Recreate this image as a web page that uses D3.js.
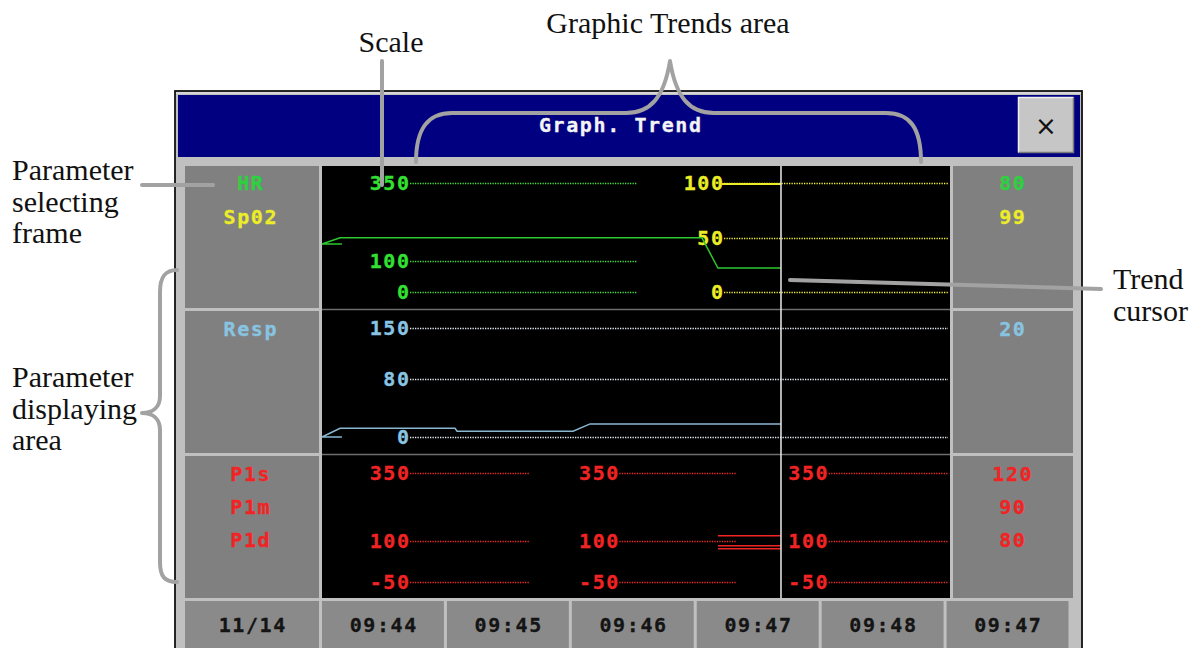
<!DOCTYPE html>
<html><head><meta charset="utf-8">
<script src="https://cdn.jsdelivr.net/npm/d3@7"></script>
<style>body{margin:0;background:#fff}svg{display:block}</style>
</head><body><svg id="c" width="1199" height="648"></svg>
<script>
// ---------------- data ----------------
const dateLabel = "11/14";
const timeTicks = ["09:44", "09:45", "09:46", "09:47", "09:48"];
const cursorTimeLabel = "09:47";
const cursorSeconds = 221.2;           // seconds after 09:44:00

const hrTicks = [350, 100, 0];
const spo2Ticks = [100, 50, 0];
const respTicks = [150, 80, 0];
const pTicks = [350, 100, -50];

const row1Names = ["HR", "Sp02"];
const row1Values = [80, 99];
const row2Names = ["Resp"];
const row2Values = [20];
const row3Names = ["P1s", "P1m", "P1d"];
const row3Values = [120, 90, 80];

const hrTime = [9.6, 0, 8.7, 183.1, 190.8, 221.2];
const hrValue = [154, 154, 174, 174, 77, 77];
const spo2Time = [192.8, 221.2];
const spo2Value = [99, 99];
const respTime = [9.6, 0, 8.7, 64.1, 65.1, 121, 129.2, 221.2];
const respValue = [0, 0, 12, 12, 8, 8, 18, 18];
const pTime = [190.8, 221.2];
const p1sValue = [120, 120];
const p1mValue = [83, 83];
const p1dValue = [72, 72];

// ---------------- styles ----------------
const C = {
  hr: "#33e033", hrLine: "#2ec82e", hrDot: "#44e044", spo2: "#ecec28", spo2Dot: "#f0f040",
  resp: "#88c4e2", respLine: "#8ab8d2", respDot: "#e8eef4", p: "#f02424", pDot: "#ee2a2a",
  navy: "#000080", panel: "#808080", light: "#c0c0c0", cell: "#8a8a8a", lead: "#a2a2a2"
};
const mono = "'DejaVu Sans Mono', 'Liberation Mono', monospace";
const serif = "'Liberation Serif', 'Times New Roman', serif";
const FS = 20, LS = 1.6;

const svg = d3.select("#c");

function screenText(xp, yp, str, color, anchor) {
  const t = svg.append("text").attr("x", xp).attr("y", yp).attr("text-anchor", anchor)
    .attr("dominant-baseline", "central").attr("font-family", mono).attr("font-weight", "bold")
    .attr("font-size", FS).style("letter-spacing", LS + "px").attr("fill", color)
    .attr("stroke", color).attr("stroke-width", 0.3).text(str);
  t.attr("dx", anchor === "end" ? LS : anchor === "middle" ? LS / 2 : 0);
  return t;
}

// ---------------- frame ----------------
svg.append("rect").attr("x", 175).attr("y", 91).attr("width", 907).attr("height", 580)
  .attr("fill", C.light).attr("stroke", "#111").attr("stroke-width", 1.8);
svg.append("line").attr("x1", 176).attr("x2", 1081).attr("y1", 93).attr("y2", 93)
  .attr("stroke", "#ececec").attr("stroke-width", 1);
svg.append("rect").attr("x", 178).attr("y", 95).attr("width", 902).attr("height", 62).attr("fill", C.navy);

// close button
svg.append("rect").attr("x", 1018).attr("y", 97).attr("width", 56).attr("height", 56).attr("fill", "#c6c6c6");
svg.append("path").attr("d", "M1018.5,152.5 V97.5 H1073.5").attr("fill", "none").attr("stroke", "#f0f0f0").attr("stroke-width", 1.5);
svg.append("path").attr("d", "M1018.5,152.5 H1073.5 V97.5").attr("fill", "none").attr("stroke", "#7a7a7a").attr("stroke-width", 1.5);
svg.append("text").attr("x", 1046).attr("y", 126).attr("text-anchor", "middle").attr("dominant-baseline", "central")
  .attr("font-family", "'DejaVu Sans', sans-serif").attr("font-size", 26).attr("fill", "#111").text("×");

// title
screenText(620, 125, "Graph. Trend", "#f4f4f4", "middle");

// ---------------- layout ----------------
const rowTops = [166, 311, 456], rowH = 142;
const chartL = 322, chartR = 950;
const x = d3.scaleLinear().domain([0, 300]).range([chartL, 944.5]);
const rowScale = (i, dom) => d3.scaleLinear().domain(dom).range([rowTops[i] + 126, rowTops[i] + 17]);
const yHR = rowScale(0, [0, 350]);
const ySpO2 = rowScale(0, [0, 100]);
const yResp = rowScale(1, [0, 150]);
const yP = rowScale(2, [-50, 350]);

// panels
rowTops.forEach(t => {
  svg.append("rect").attr("x", 185).attr("y", t).attr("width", 134).attr("height", rowH).attr("fill", C.panel);
  svg.append("rect").attr("x", 953).attr("y", t).attr("width", 120).attr("height", rowH).attr("fill", C.panel);
});
svg.append("rect").attr("x", chartL).attr("y", 166).attr("width", chartR - chartL).attr("height", 432).attr("fill", "#000");
[309.5, 454.5].forEach(y => svg.append("line").attr("x1", chartL).attr("x2", chartR).attr("y1", y).attr("y2", y)
  .attr("stroke", "#6e6e6e").attr("stroke-width", 1.5));

// ---------------- scales (labels + dotted lines) ----------------
function scaleGroup(g0, g1, ticks, yS, color, dotColor, dotEnd) {
  const labelEnd = g0 + 87;
  ticks.forEach(v => {
    svg.append("line").attr("x1", labelEnd + 1).attr("x2", dotEnd !== undefined ? dotEnd : g1 - 2)
      .attr("y1", Math.round(yS(v)) + 0.5).attr("y2", Math.round(yS(v)) + 0.5)
      .attr("stroke", dotColor).attr("stroke-width", 1.3).attr("stroke-dasharray", "1.3 1.2");
    screenText(labelEnd, yS(v), v, color, "end");
  });
}
const halfW = (chartR - chartL) / 2, thirdW = (chartR - chartL) / 3;
scaleGroup(chartL, chartL + halfW, hrTicks, yHR, C.hr, C.hrDot, chartL + halfW + 1);
scaleGroup(chartL + halfW, chartR, spo2Ticks, ySpO2, C.spo2, C.spo2Dot);
scaleGroup(chartL, chartR, respTicks, yResp, C.resp, C.respDot);
for (let k = 0; k < 3; k++) scaleGroup(chartL + k * thirdW, chartL + (k + 1) * thirdW, pTicks, yP, C.p, C.pDot, chartL + (k + 1) * thirdW - 2 - (k === 1 ? 2 : 0));

// ---------------- trend lines ----------------
function trend(ts, vs, yS, color, w) {
  const pts = ts.map((t, i) => [t, vs[i]]);
  svg.append("path").datum(pts).attr("fill", "none").attr("stroke", color).attr("stroke-width", w || 1.5)
    .attr("d", d3.line().x(d => x(d[0])).y(d => yS(d[1])));
}
trend(hrTime, hrValue, yHR, C.hrLine);
trend(spo2Time, spo2Value, ySpO2, C.spo2, 2);
trend(respTime, respValue, yResp, C.respLine);
trend(pTime, p1sValue, yP, C.p);
trend(pTime, p1mValue, yP, C.p);
trend(pTime, p1dValue, yP, C.p);

// cursor
svg.append("line").attr("x1", x(cursorSeconds)).attr("x2", x(cursorSeconds)).attr("y1", 166).attr("y2", 598)
  .attr("stroke", "#ececec").attr("stroke-width", 1.5);

// ---------------- parameter names + current values ----------------
function panelText(names, values, ys, color) {
  names.forEach((n, i) => {
    screenText(250, ys[i], n, color[i], "middle");
    screenText(1012, ys[i], values[i], color[i], "middle");
  });
}
panelText(row1Names, row1Values, [183, 217], ["#2ed040", C.spo2]);
panelText(row2Names, row2Values, [329], [C.resp]);
panelText(row3Names, row3Values, [474, 507, 540], [C.p, C.p, C.p]);

// ---------------- time row ----------------
const cellLabels = timeTicks.concat([cursorTimeLabel]);
const band = d3.scaleBand().domain(d3.range(cellLabels.length)).range([chartL, 1068.5]).paddingInner(0.024);
const cells = [{ x: 185, w: 134, t: dateLabel }].concat(cellLabels.map((t, i) => ({ x: band(i), w: band.bandwidth(), t })));
cells.forEach(c => {
  svg.append("rect").attr("x", c.x).attr("y", 601).attr("width", c.w).attr("height", 60).attr("fill", C.cell);
  screenText(c.x + c.w / 2, 625, c.t, "#141414", "middle");
});

// ---------------- annotations ----------------
const lead = (d) => svg.append("path").attr("d", d).attr("fill", "none").attr("stroke", C.lead)
  .attr("stroke-width", 4).attr("stroke-linecap", "round").attr("stroke-linejoin", "round");
lead("M382,61 V185");
lead("M142,185 H213");
lead("M790,280 L1101,289");
lead("M416,162 C416,128 428,113 452,113 L626,113 C650,113 664,98 670,61 C676,98 690,113 714,113 L886,113 C910,113 921,128 921,162");
lead("M177,270 C165,270 160,277 160,292 L160,396 C160,407 153,413 142,413 C153,413 160,419 160,430 L160,562 C160,577 165,582 177,582");

function note(xp, ys, lines, anchor) {
  lines.forEach((l, i) => svg.append("text").attr("x", xp).attr("y", ys[i]).attr("text-anchor", anchor || "start")
    .attr("font-family", serif).attr("font-size", 30).attr("fill", "#111").text(l));
}
note(391, [52], ["Scale"], "middle");
note(668, [33], ["Graphic Trends area"], "middle");
note(12, [180, 212, 243], ["Parameter", "selecting", "frame"]);
note(12, [387, 419, 450], ["Parameter", "displaying", "area"]);
note(1113, [289, 321], ["Trend", "cursor"]);
</script></body></html>
